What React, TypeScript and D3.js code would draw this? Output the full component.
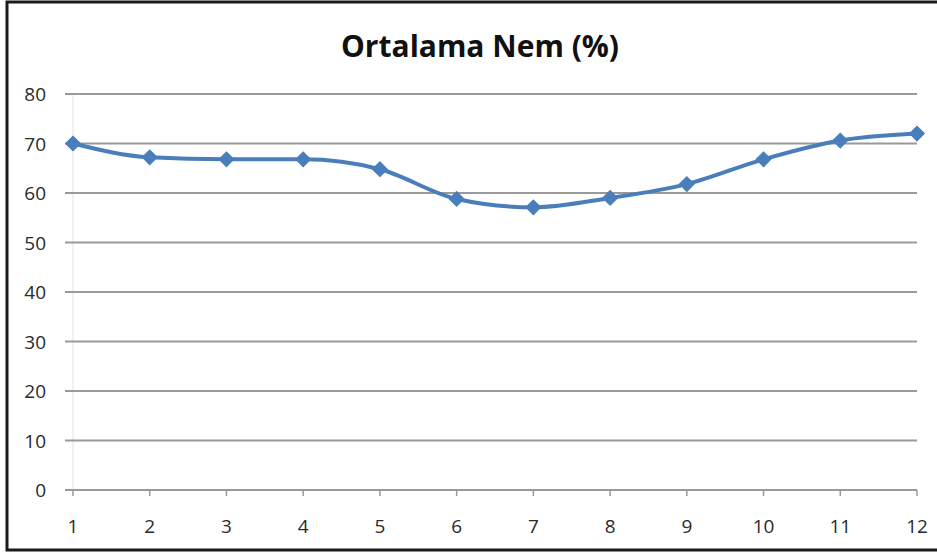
import React, { useEffect, useRef } from "react";
import * as d3 from "d3";

const months = [1, 2, 3, 4, 5, 6, 7, 8, 9, 10, 11, 12];
const humidity = [70, 67.2, 66.8, 66.8, 64.8, 58.8, 57.1, 59, 61.8, 66.8, 70.6, 72];
const yTicks = [0, 10, 20, 30, 40, 50, 60, 70, 80];
const title = "Ortalama Nem (%)";

const W = 937;
const H = 553;
const margin = { top: 94, right: 20, bottom: 63, left: 73 };
const lineColor = "#4a7ebb";
const fontFamily = "'Open Sans', 'Noto Sans', sans-serif";

export default function App() {
  const ref = useRef<SVGSVGElement>(null);

  useEffect(() => {
    const svg = d3.select(ref.current);
    svg.selectAll("*").remove();

    const x = d3
      .scaleLinear()
      .domain([1, 12])
      .range([margin.left, W - margin.right]);
    const y = d3
      .scaleLinear()
      .domain([0, 80])
      .range([H - margin.bottom, margin.top]);

    // background + frame
    svg.append("rect").attr("width", W).attr("height", H).attr("fill", "#fff");
    svg
      .append("rect")
      .attr("x", 7)
      .attr("y", 2)
      .attr("width", W + 10)
      .attr("height", 548)
      .attr("fill", "none")
      .attr("stroke", "#1a1a1a")
      .attr("stroke-width", 3);

    svg
      .append("text")
      .attr("x", 480)
      .attr("y", 57)
      .attr("text-anchor", "middle")
      .attr("font-family", fontFamily)
      .attr("font-weight", "bold")
      .attr("font-size", 30)
      .attr("fill", "#111")
      .text(title);

    // faint vertical axis line
    svg
      .append("line")
      .attr("x1", x(1))
      .attr("x2", x(1))
      .attr("y1", y(80))
      .attr("y2", y(0))
      .attr("stroke", "#e4e4e4")
      .attr("stroke-width", 1);

    // horizontal gridlines
    svg
      .append("g")
      .selectAll("line")
      .data(yTicks)
      .join("line")
      .attr("x1", margin.left - 8)
      .attr("x2", x(12))
      .attr("y1", (d) => y(d))
      .attr("y2", (d) => y(d))
      .attr("stroke", "#9a9a9a")
      .attr("stroke-width", 2);

    // y labels
    svg
      .append("g")
      .selectAll("text")
      .data(yTicks)
      .join("text")
      .attr("x", 46)
      .attr("y", (d) => y(d) + 7)
      .attr("text-anchor", "end")
      .attr("font-family", fontFamily)
      .attr("font-size", 19)
      .attr("fill", "#2a2a2a")
      .text((d) => d);

    // x ticks and labels
    const xg = svg.append("g");
    xg.selectAll("line")
      .data(months)
      .join("line")
      .attr("x1", (d) => x(d))
      .attr("x2", (d) => x(d))
      .attr("y1", y(0))
      .attr("y2", y(0) + 6)
      .attr("stroke", "#9a9a9a")
      .attr("stroke-width", 1.5);
    xg.selectAll("text")
      .data(months)
      .join("text")
      .attr("x", (d) => x(d))
      .attr("y", y(0) + 43)
      .attr("text-anchor", "middle")
      .attr("font-family", fontFamily)
      .attr("font-size", 19)
      .attr("fill", "#2a2a2a")
      .text((d) => d);

    // smoothed line
    const pts = months.map((m, i) => [m, humidity[i]] as [number, number]);
    const line = d3
      .line<[number, number]>()
      .x((d) => x(d[0]))
      .y((d) => y(d[1]))
      .curve(d3.curveMonotoneX);
    svg
      .append("path")
      .datum(pts)
      .attr("d", line)
      .attr("fill", "none")
      .attr("stroke", lineColor)
      .attr("stroke-width", 4);

    // diamond markers (rotated squares)
    const square = d3.symbol().type(d3.symbolSquare).size(110);
    svg
      .append("g")
      .selectAll("path")
      .data(pts)
      .join("path")
      .attr("d", square)
      .attr("transform", (d) => `translate(${x(d[0])},${y(d[1])}) rotate(45)`)
      .attr("fill", lineColor)
      .attr("stroke", lineColor)
      .attr("stroke-width", 1);
  }, []);

  return (
    <svg
      ref={ref}
      width={W}
      height={H}
      style={{ position: "absolute", left: 0, top: 0 }}
    />
  );
}
